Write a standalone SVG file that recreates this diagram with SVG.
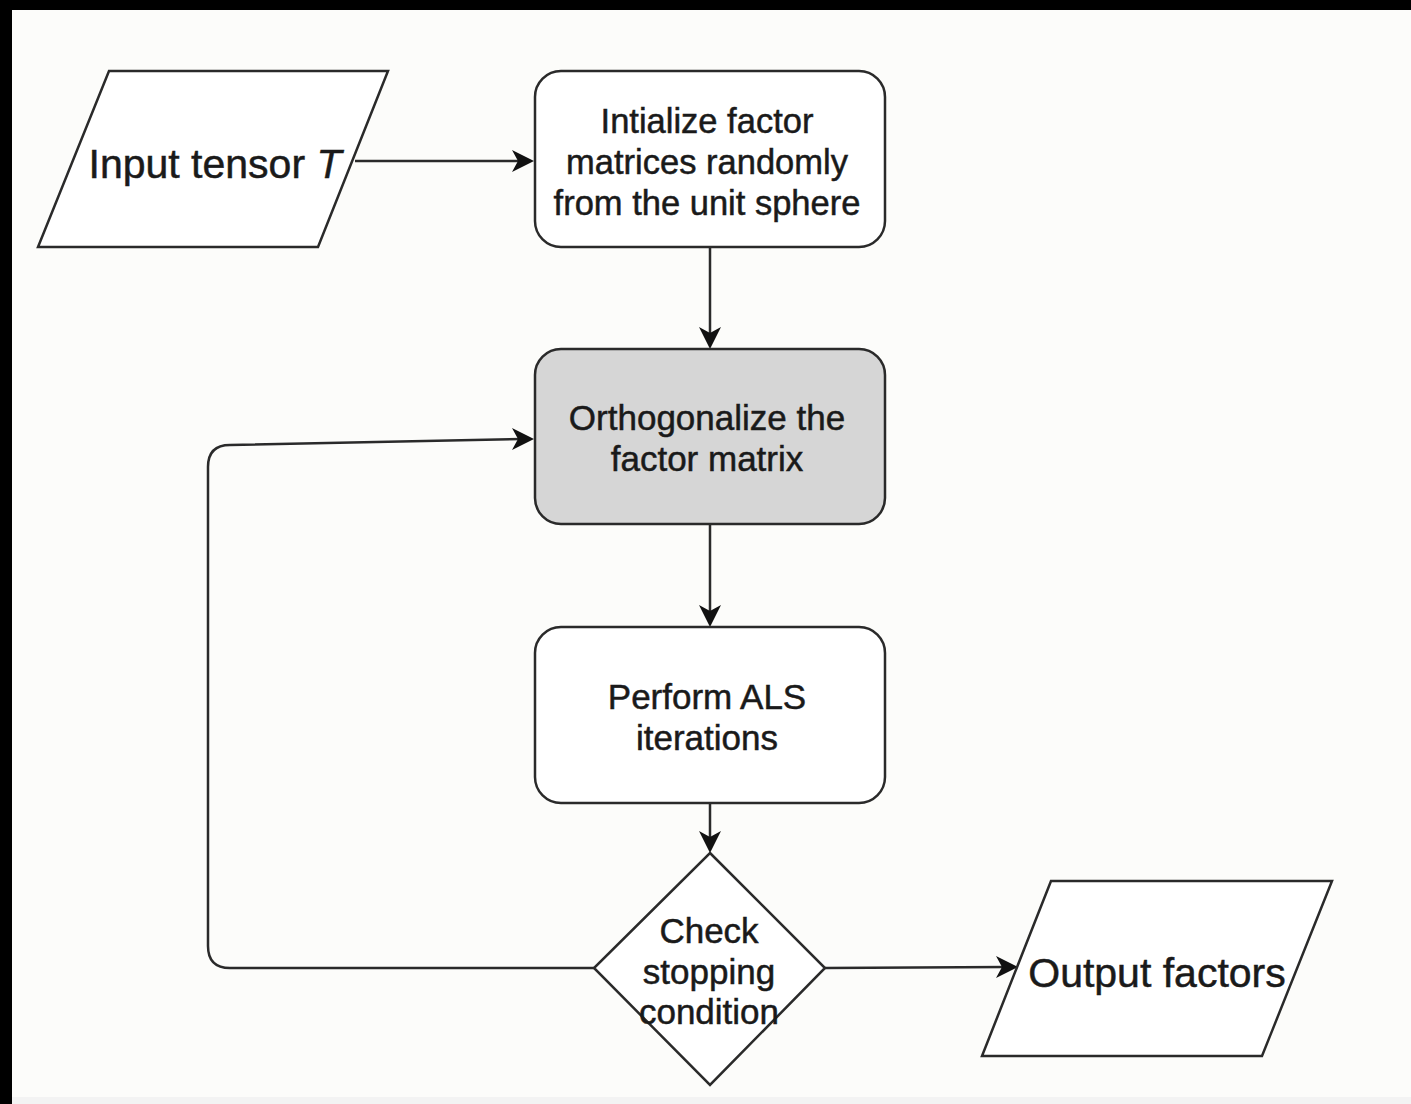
<svg xmlns="http://www.w3.org/2000/svg" width="1411" height="1104" viewBox="0 0 1411 1104">
<defs>
<style>
.shape{stroke:#2a2a2a;stroke-width:2.5;fill:#ffffff}
.gray{fill:#d6d6d6}
.t{font-family:"Liberation Sans",Arial,sans-serif;fill:#1a1a1a;text-anchor:middle;stroke:#1a1a1a;stroke-width:0.5}
.conn{stroke:#2a2a2a;stroke-width:2.5;fill:none}
.head{fill:#111;stroke:none}
</style>
</defs>
<rect x="0" y="0" width="1411" height="1104" fill="#fcfcfa"/>
<rect x="0" y="0" width="1411" height="10" fill="#000"/>
<rect x="0" y="0" width="12" height="1104" fill="#000"/>
<rect x="12" y="1097" width="1399" height="7" fill="#f3f3f3"/>

<g id="connectors">
<path class="conn" d="M355,161 L522,161"/>
<path class="head" d="M512,150 L534,161 L512,172 L518,161 z"/>
<path class="conn" d="M710,247 L710,338"/>
<path class="head" d="M699,327 L710,349 L721,327 L710,333 z"/>
<path class="conn" d="M710,524 L710,616"/>
<path class="head" d="M699,605 L710,627 L721,605 L710,611 z"/>
<path class="conn" d="M710,803 L710,842"/>
<path class="head" d="M699,831 L710,853 L721,831 L710,837 z"/>
<path class="conn" d="M825,968 L1006,967"/>
<path class="head" d="M996,956 L1018,967 L996,978 L1002,967 z"/>
<path class="conn" d="M594,968 L230,968 Q208,968 208,946 L208,467 Q208,445 230,445 L522,439"/>
<path class="head" d="M512,428 L534,439 L512,450 L518,439 z"/>
</g>

<g id="input">
<polygon class="shape" points="109,71 388,71 318,247 38,247"/>
<text class="t" x="215" y="178" font-size="41">Input tensor <tspan font-style="italic">T</tspan></text>
</g>

<g id="init">
<rect class="shape" x="535" y="71" width="350" height="176" rx="26"/>
<text class="t" x="707" y="133" font-size="34.5">Intialize factor</text>
<text class="t" x="707" y="174" font-size="34.5">matrices randomly</text>
<text class="t" x="707" y="215" font-size="34.5">from the unit sphere</text>
</g>

<g id="ortho">
<rect class="shape gray" x="535" y="349" width="350" height="175" rx="26"/>
<text class="t" x="707" y="430" font-size="35">Orthogonalize the</text>
<text class="t" x="707" y="471" font-size="35">factor matrix</text>
</g>

<g id="als">
<rect class="shape" x="535" y="627" width="350" height="176" rx="26"/>
<text class="t" x="707" y="709" font-size="35">Perform ALS</text>
<text class="t" x="707" y="750" font-size="35">iterations</text>
</g>

<g id="check">
<polygon class="shape" points="710,853 825,968 710,1085 594,968"/>
<text class="t" x="709" y="943" font-size="35">Check</text>
<text class="t" x="709" y="984" font-size="35">stopping</text>
<text class="t" x="709" y="1024" font-size="35">condition</text>
</g>

<g id="output">
<polygon class="shape" points="1051,881 1332,881 1262,1056 982,1056"/>
<text class="t" x="1157" y="987" font-size="41">Output factors</text>
</g>
</svg>
